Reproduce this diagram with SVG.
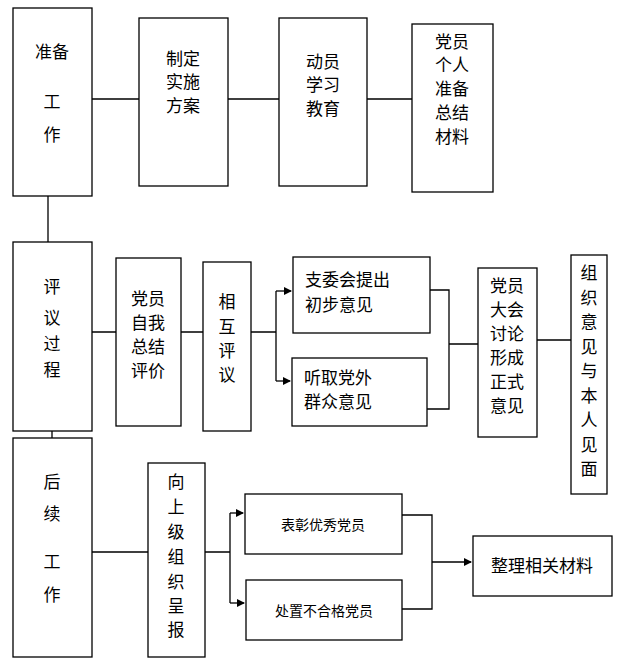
<svg xmlns="http://www.w3.org/2000/svg" width="622" height="666" viewBox="0 0 622 666">
<style>
rect{fill:#fff;stroke:#000;stroke-width:1.3}
text{font-family:"Noto Sans CJK SC",sans-serif;font-size:17px;fill:#000;dominant-baseline:central}
.c{text-anchor:middle}
.s{font-size:14px}
#conn path{fill:none;stroke:#000;stroke-width:1.3}
</style>
<defs><marker id="a" markerWidth="8" markerHeight="8" refX="7" refY="4" orient="auto" markerUnits="userSpaceOnUse"><path d="M0,0L8,4L0,8z" fill="#000"/></marker></defs>
<rect width="622" height="666" style="stroke:none"/>
<g id="conn">
<path d="M92,99H139M228,99H279M367,99H412M48,196V242M52,431V438"/>
<path d="M92,332H116M181,332H203M251,332H276M276,291V381"/>
<path d="M276,291H291" marker-end="url(#a)"/><path d="M276,381H290" marker-end="url(#a)"/>
<path d="M430,290H449V409H427M449,344H478M537,340H571"/>
<path d="M92,552H148M205,552H230M230,513V603"/>
<path d="M230,513H243" marker-end="url(#a)"/><path d="M230,603H244" marker-end="url(#a)"/>
<path d="M402,515H432V609H402"/>
<path d="M432,562H471" marker-end="url(#a)"/>
</g>
<g id="n1"><rect x="13" y="8" width="79" height="188"/><text class="c" x="52" y="50">准备</text><text class="c" x="52" y="100">工</text><text class="c" x="52" y="133">作</text></g>
<g id="n2"><rect x="139" y="18" width="89" height="168"/><text class="c" x="183" y="57">制定</text><text class="c" x="183" y="80">实施</text><text class="c" x="183" y="104">方案</text></g>
<g id="n3"><rect x="279" y="18" width="88" height="168"/><text class="c" x="323" y="60">动员</text><text class="c" x="323" y="83">学习</text><text class="c" x="323" y="107">教育</text></g>
<g id="n4"><rect x="412" y="24" width="81" height="168"/><text class="c" x="452" y="40">党员</text><text class="c" x="452" y="63">个人</text><text class="c" x="452" y="87">准备</text><text class="c" x="452" y="111">总结</text><text class="c" x="452" y="135">材料</text></g>
<g id="n5"><rect x="13" y="242" width="79" height="189"/><text class="c" x="52" y="285">评</text><text class="c" x="52" y="316">议</text><text class="c" x="52" y="342">过</text><text class="c" x="52" y="368">程</text></g>
<g id="n6"><rect x="116" y="258" width="65" height="168"/><text class="c" x="148" y="297">党员</text><text class="c" x="148" y="321">自我</text><text class="c" x="148" y="345">总结</text><text class="c" x="148" y="369">评价</text></g>
<g id="n7"><rect x="203" y="262" width="48" height="169"/><text class="c" x="227" y="300">相</text><text class="c" x="227" y="325">互</text><text class="c" x="227" y="349">评</text><text class="c" x="227" y="373">议</text></g>
<g id="n8"><rect x="293" y="257" width="137" height="76"/><text x="305" y="278">支委会提出</text><text x="305" y="303">初步意见</text></g>
<g id="n9"><rect x="292" y="358" width="135" height="68"/><text x="304" y="376">听取党外</text><text x="304" y="400">群众意见</text></g>
<g id="n10"><rect x="478" y="268" width="59" height="169"/><text class="c" x="507" y="284">党员</text><text class="c" x="507" y="308">大会</text><text class="c" x="507" y="332">讨论</text><text class="c" x="507" y="356">形成</text><text class="c" x="507" y="380">正式</text><text class="c" x="507" y="404">意见</text></g>
<g id="n11"><rect x="571" y="255" width="36" height="239"/><text class="c" x="589" y="271">组</text><text class="c" x="589" y="296">织</text><text class="c" x="589" y="320">意</text><text class="c" x="589" y="345">见</text><text class="c" x="589" y="369">与</text><text class="c" x="589" y="394">本</text><text class="c" x="589" y="418">人</text><text class="c" x="589" y="443">见</text><text class="c" x="589" y="467">面</text></g>
<g id="n12"><rect x="13" y="438" width="79" height="219"/><text class="c" x="52" y="480">后</text><text class="c" x="52" y="512">续</text><text class="c" x="52" y="560">工</text><text class="c" x="52" y="593">作</text></g>
<g id="n13"><rect x="148" y="463" width="57" height="194"/><text class="c" x="176" y="480">向</text><text class="c" x="176" y="505">上</text><text class="c" x="176" y="530">级</text><text class="c" x="176" y="555">组</text><text class="c" x="176" y="580">织</text><text class="c" x="176" y="604">呈</text><text class="c" x="176" y="628">报</text></g>
<g id="n14"><rect x="245" y="494" width="157" height="60"/><text class="c s" x="323" y="524">表彰优秀党员</text></g>
<g id="n15"><rect x="246" y="580" width="156" height="60"/><text class="c s" x="324" y="610">处置不合格党员</text></g>
<g id="n16"><rect x="473" y="536" width="139" height="60"/><text class="c" x="542" y="564">整理相关材料</text></g>
</svg>
